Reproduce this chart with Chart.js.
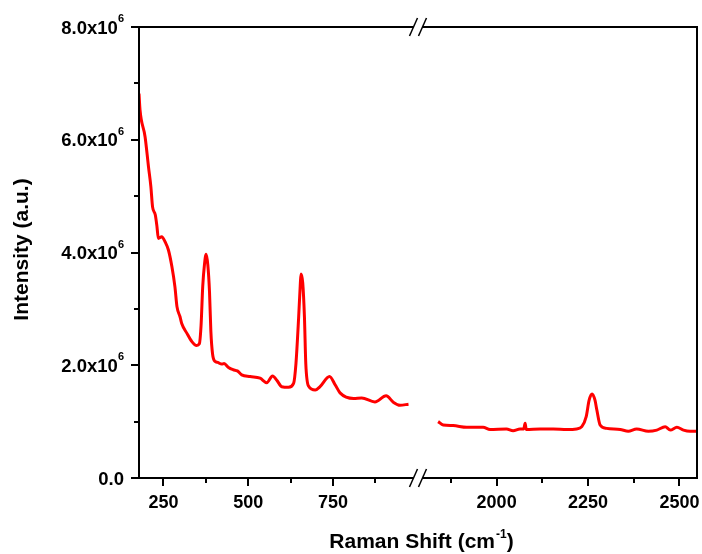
<!DOCTYPE html>
<html>
<head>
<meta charset="utf-8">
<script src="https://cdn.jsdelivr.net/npm/chart.js@4.4.1/dist/chart.umd.min.js"></script>
<style>
  html, body { margin: 0; padding: 0; background: #fff; }
  #ramanChart { display: block; }
</style>
</head>
<body>
<canvas id="ramanChart" width="702" height="554"></canvas>
<script>
// Raman spectrum, low-shift window
const shiftLeft = [178, 181, 196, 206, 213, 218, 226, 231, 235, 245, 255, 265, 275, 284, 290, 299, 304, 319, 334,
  348, 356, 361, 366, 371, 376, 381, 386, 390, 395, 402, 410, 422, 429, 442, 456, 468, 481, 506, 535, 555,
  572, 585, 599, 619, 634, 641, 649, 654, 656, 661, 666, 670, 678, 698, 712, 740, 757, 771, 811, 835, 874,
  907, 929, 948, 973];
const intensityLeft = [6.82e6, 6.53e6, 6.05e6, 5.52e6, 5.17e6, 4.81e6, 4.67e6, 4.46e6, 4.25e6, 4.28e6, 4.19e6,
  4.04e6, 3.75e6, 3.39e6, 3.04e6, 2.86e6, 2.74e6, 2.57e6, 2.42e6,
  2.35e6, 2.38e6, 2.70e6, 3.40e6, 3.78e6, 3.97e6, 3.78e6, 3.30e6, 2.60e6, 2.20e6, 2.07e6, 2.05e6, 2.02e6,
  2.03e6, 1.96e6, 1.92e6, 1.90e6, 1.83e6, 1.80e6, 1.77e6, 1.69e6,
  1.81e6, 1.73e6, 1.62e6, 1.61e6, 1.68e6, 2.03e6, 2.86e6, 3.46e6, 3.62e6, 3.46e6, 2.86e6, 2.03e6, 1.63e6,
  1.56e6, 1.62e6, 1.80e6, 1.65e6, 1.51e6, 1.41e6, 1.42e6, 1.35e6,
  1.46e6, 1.34e6, 1.29e6, 1.31e6];

// high-shift window
const shiftRight = [1840, 1854, 1881, 1918, 1963, 1982, 2027, 2045, 2064, 2074, 2078, 2081, 2119, 2155, 2192,
  2219, 2233, 2245, 2253, 2261, 2269, 2274, 2283, 2301, 2338, 2360, 2383, 2415, 2438, 2461, 2475, 2493,
  2511, 2529, 2548];
const intensityRight = [1.00e6, 0.94e6, 0.93e6, 0.90e6, 0.90e6, 0.86e6, 0.87e6, 0.84e6, 0.87e6, 0.87e6, 0.97e6,
  0.86e6, 0.87e6, 0.87e6, 0.86e6,
  0.87e6, 0.91e6, 1.09e6, 1.38e6, 1.49e6, 1.38e6, 1.21e6, 0.94e6, 0.88e6, 0.86e6, 0.83e6, 0.87e6, 0.83e6,
  0.85e6, 0.91e6, 0.85e6, 0.90e6,
  0.85e6, 0.83e6, 0.83e6];

// axis break: two windows shown side by side, equal width
const xSegments = [[178, 1001], [1785, 2548]];
const xMajorTicks = [250, 500, 750, 2000, 2250, 2500];
const xMinorTicks = [375, 625, 875, 1875, 2125, 2375];
const yMajorTicks = [0, 2e6, 4e6, 6e6, 8e6];
const yMinorTicks = [1e6, 3e6, 5e6, 7e6];
const yTickLabels = ['0.0', '2.0x10', '4.0x10', '6.0x10', '8.0x10'];
const yTickExp = ['', '6', '6', '6', '6'];

// linear scale that squeezes both windows into the axis
class BrokenScale extends Chart.LinearScale {
  getPixelForValue(value) {
    const w = (this.right - this.left) / xSegments.length;
    let i = xSegments.findIndex(s => value <= s[1]);
    if (i < 0) i = xSegments.length - 1;
    const [a, b] = xSegments[i];
    return this.left + w * i + (value - a) / (b - a) * w;
  }
  getValueForPixel(pixel) {
    const w = (this.right - this.left) / xSegments.length;
    const i = Math.min(xSegments.length - 1, Math.max(0, Math.floor((pixel - this.left) / w)));
    const [a, b] = xSegments[i];
    return a + (pixel - this.left - w * i) / w * (b - a);
  }
}
BrokenScale.id = 'broken';
BrokenScale.defaults = Chart.LinearScale.defaults;
Chart.register(BrokenScale);

const FONT = '"Liberation Sans", Arial, sans-serif';
const RED = '#ff0000';

function drawBreak(ctx, cx, y) {
  ctx.save();
  ctx.fillStyle = '#fff';
  ctx.fillRect(cx - 4, y - 3, 8, 6);
  ctx.strokeStyle = '#000';
  ctx.lineWidth = 1.5;
  [-4.5, 4.5].forEach(d => {
    ctx.beginPath();
    ctx.moveTo(cx + d - 4, y + 9);
    ctx.lineTo(cx + d + 4, y - 9);
    ctx.stroke();
  });
  ctx.restore();
}

const framePlugin = {
  id: 'frame',
  afterDatasetsDraw(chart) {
    const { ctx, chartArea: a, scales: { x, y } } = chart;
    ctx.save();
    ctx.strokeStyle = '#000';
    ctx.fillStyle = '#000';
    ctx.lineWidth = 2;
    ctx.strokeRect(a.left, a.top, a.right - a.left, a.bottom - a.top);

    const mid = (a.left + a.right) / 2;
    drawBreak(ctx, mid, a.top);
    drawBreak(ctx, mid, a.bottom);

    // x ticks
    ctx.lineWidth = 2;
    xMajorTicks.forEach(v => {
      const px = Math.round(x.getPixelForValue(v));
      ctx.beginPath(); ctx.moveTo(px, a.bottom); ctx.lineTo(px, a.bottom + 8); ctx.stroke();
    });
    xMinorTicks.forEach(v => {
      const px = Math.round(x.getPixelForValue(v));
      ctx.beginPath(); ctx.moveTo(px, a.bottom); ctx.lineTo(px, a.bottom + 5); ctx.stroke();
    });
    ctx.font = 'bold 18px ' + FONT;
    ctx.textAlign = 'center';
    ctx.textBaseline = 'alphabetic';
    xMajorTicks.forEach(v => {
      ctx.fillText(String(v), x.getPixelForValue(v), a.bottom + 30);
    });

    // y ticks
    yMajorTicks.forEach(v => {
      const py = Math.round(y.getPixelForValue(v));
      ctx.beginPath(); ctx.moveTo(a.left - 8, py); ctx.lineTo(a.left, py); ctx.stroke();
    });
    yMinorTicks.forEach(v => {
      const py = Math.round(y.getPixelForValue(v));
      ctx.beginPath(); ctx.moveTo(a.left - 5, py); ctx.lineTo(a.left, py); ctx.stroke();
    });
    yMajorTicks.forEach((v, i) => {
      const py = y.getPixelForValue(v);
      const right = a.left - 15;
      ctx.font = 'bold 11px ' + FONT;
      const supW = yTickExp[i] ? ctx.measureText(yTickExp[i]).width : 0;
      ctx.textAlign = 'left';
      if (yTickExp[i]) ctx.fillText(yTickExp[i], right - supW, py - 5);
      ctx.font = 'bold 18.5px ' + FONT;
      ctx.textAlign = 'right';
      ctx.fillText(yTickLabels[i], right - supW, py + 6.5);
    });

    // x title with superscript
    ctx.textAlign = 'left';
    const t1 = 'Raman Shift (cm', sup = '-1', t2 = ')';
    ctx.font = 'bold 21px ' + FONT;
    const w1 = ctx.measureText(t1).width, w2 = ctx.measureText(t2).width;
    ctx.font = 'bold 12px ' + FONT;
    const ws = ctx.measureText(sup).width;
    let tx = mid + 3 - (w1 + ws + w2) / 2;
    const ty = a.bottom + 70;
    ctx.font = 'bold 21px ' + FONT;
    ctx.fillText(t1, tx, ty);
    ctx.font = 'bold 12px ' + FONT;
    ctx.fillText(sup, tx + w1 + 1, ty - 10);
    ctx.font = 'bold 21px ' + FONT;
    ctx.fillText(t2, tx + w1 + ws + 1, ty);

    // y title
    ctx.save();
    ctx.translate(28, (a.top + a.bottom) / 2 - 3);
    ctx.rotate(-Math.PI / 2);
    ctx.textAlign = 'center';
    ctx.font = 'bold 21px ' + FONT;
    ctx.fillText('Intensity (a.u.)', 0, 0);
    ctx.restore();

    ctx.restore();
  }
};

const toPoints = (xs, ys) => xs.map((v, i) => ({ x: v, y: ys[i] }));

const lineStyle = {
  borderColor: RED,
  backgroundColor: RED,
  borderWidth: 3,
  pointRadius: 0,
  fill: false,
  cubicInterpolationMode: 'monotone'
};

new Chart(document.getElementById('ramanChart'), {
  type: 'line',
  data: {
    datasets: [
      { data: toPoints(shiftLeft, intensityLeft), ...lineStyle },
      { data: toPoints(shiftRight, intensityRight), ...lineStyle }
    ]
  },
  options: {
    responsive: false,
    animation: false,
    events: [],
    layout: { padding: { left: 139, top: 27, right: 5, bottom: 76 } },
    plugins: {
      legend: { display: false },
      tooltip: { enabled: false }
    },
    scales: {
      x: { type: 'broken', min: 178, max: 2548, display: false },
      y: { type: 'linear', min: 0, max: 8e6, display: false }
    }
  },
  plugins: [framePlugin]
});
</script>
</body>
</html>
